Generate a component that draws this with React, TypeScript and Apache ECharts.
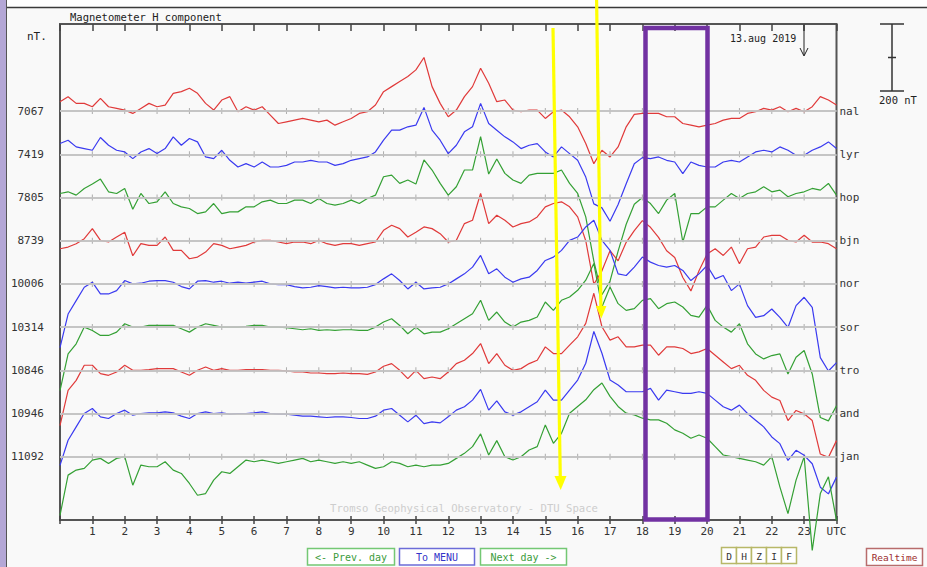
import React, { useEffect, useRef } from "react";
import * as echarts from "echarts";

// ---- data (deviation from station baseline, nT; one sample every 0.25 h, 0..24 UTC) ----
const STEP_H = 0.25;
const STATIONS = ["nal", "lyr", "hop", "bjn", "nor", "sor", "tro", "and", "jan"];
const BASE_NT = [7067, 7419, 7805, 8739, 10006, 10314, 10846, 10946, 11092];
const HOUR_TICKS = [1, 2, 3, 4, 5, 6, 7, 8, 9, 10, 11, 12, 13, 14, 15, 16, 17, 18, 19, 20, 21, 22, 23];

const NAL = [
  28, 43, 23, 23, 13, 38, 13, 8, 3, -7, 8, 23, 13, 18, 53, 58, 68, 53, 23, 3, 33, 43, -2, 13, 3,
  13, -12, -37, -32, -27, -22, -27, -32, -27, -42, -32, -22, -7, -2, 18, 58, 73, 88, 103, 123, 160, 73, 23, -17,
  3, 43, 73, 128, 83, 28, 33, 3, -2, 3, 3, -22, -2, 3, -17, -47, -97, -157, -117, -137, -107, -47, -10, -7,
  -7, -7, -17, -17, -37, -42, -47, -42, -37, -27, -22, -22, -7, -2, 8, 3, 13, -2, 8, -2, 13, 43, 33, 18,
];
const LYR = [
  32, 42, 22, 17, 12, 50, 27, 12, 7, -13, 7, 17, 2, 17, 52, 27, 47, 37, -8, -13, 12, -18, -38, -28, -38,
  -23, -38, -38, -33, -23, -23, -18, -23, -23, -33, -28, -18, -13, -8, 7, 42, 72, 72, 82, 87, 140, 72, 42, 2,
  27, 67, 82, 152, 92, 72, 52, 37, 17, 27, 32, 7, -8, 22, 2, -18, -68, -148, -160, -200, -150, -88, -28, -10,
  -13, -8, -18, -23, -58, -23, -33, -38, -38, -23, -18, -23, -8, 7, 12, 7, 22, 12, -3, -3, 12, 22, 37, 17,
];
const HOP = [
  12, 17, 7, 27, 40, 55, 17, 12, 27, -35, 12, -18, -13, 17, -18, -28, -33, -48, -43, -18, -48, -43, -43, -28, -28,
  -13, -8, -18, -18, -8, -8, -18, -3, -18, -23, -18, -8, -18, -3, 7, 62, 67, 42, 52, 40, 112, 82, 42, 7,
  32, 82, 82, 182, 70, 115, 72, 52, 42, 67, 72, 72, 72, 82, 42, 12, -58, -190, -290, -250, -160, -80, -20, 0,
  -18, -48, -8, 12, -133, -48, -48, -28, -28, -8, 12, -3, 12, 17, 32, 17, 22, 2, 12, 17, 27, 22, 42, 7,
];
const BJN = [
  -24, -19, -9, 6, 36, 1, -4, 11, 25, -45, -9, -14, -14, 11, -29, -29, -54, -49, -34, -9, -14, -24, -19, -14, -4,
  1, 1, -4, -9, -4, -4, -9, 1, -9, -14, -9, -9, -14, -9, -4, 31, 46, 36, 11, 25, 41, 36, 21, -4,
  1, 51, 61, 141, 51, 76, 61, 41, 51, 56, 71, 101, 111, 116, 101, 71, 0, -130, -90, -30, -60, -5, 30, 60,
  40, 10, -30, -50, -110, -150, -90, -40, -24, -44, -19, -69, -24, -19, 11, 16, 16, 1, -4, 16, -4, -4, -9, -24,
];
const NOR = [
  -190, -90, -50, -10, 5, -30, -30, -20, 10, 0, 2, 8, 10, 10, 5, -8, -15, 8, 10, 5, 8, 2, 5, 2, 5,
  8, 0, -2, -2, -8, -12, -10, -5, -8, -12, -10, -12, -12, -10, -2, 15, 30, 10, -15, 5, -15, -12, -10, 0,
  15, 30, 50, 85, 30, 45, 20, 5, 15, 20, 40, 70, 80, 100, 130, 140, 170, 190, 130, 100, 30, 25, 50, 80,
  65, 55, 50, 55, 40, 10, 30, 55, 15, 25, -20, 0, -65, -100, -95, -75, -100, -130, -65, -40, -70, -220, -260, -235,
];
const SOR = [
  -190, -80, -50, 0, -10, -25, -25, -15, 10, 0, 0, 5, 5, 5, 5, -5, -15, 0, 10, 5, 0, 0, 0, 2, 5,
  5, 0, 0, -2, -5, -8, -5, -10, -8, -10, -8, -8, -10, -10, 0, 15, 25, 5, -20, 0, -20, -15, -15, -5,
  10, 25, 40, 80, 20, 45, 15, 0, 15, 20, 30, 75, 50, 80, 90, 110, 140, 190, 60, 120, 70, 50, 55, 80,
  85, 55, 70, 75, 60, 35, 30, 65, 20, 0, -15, 10, -50, -80, -95, -85, -80, -140, -90, -70, -140, -270, -280, -235,
];
const TRO = [
  -165, -60, -30, 15, 15, -10, -15, -5, 15, 0, 0, 2, 5, 5, 5, -5, -15, 0, 10, 0, 5, 0, 0, 2, 2,
  2, 0, 0, -2, -5, -5, -8, -8, -10, -10, -8, -10, -10, -12, -5, 12, 20, 0, -25, 0, -25, -20, -25, -5,
  20, 30, 50, 80, 20, 50, 15, 0, 5, 20, 30, 70, 50, 50, 75, 100, 140, 230, 130, 90, 100, 70, 70, 75,
  75, 45, 70, 70, 65, 50, 55, 65, 45, 25, 5, 15, -15, -30, -60, -80, -90, -150, -120, -130, -150, -250, -260, -210,
];
const AND = [
  -155, -80, -40, 0, 15, -10, -15, 0, 10, -5, 0, 2, 2, 5, 2, -8, -15, 0, 5, 0, 2, -2, 0, 0, 2,
  5, 0, -2, -2, -5, -8, -8, -10, -12, -10, -10, -12, -15, -15, -8, 10, 15, -5, -25, -5, -30, -25, -28, -10,
  10, 20, 40, 72, 10, 38, 5, -5, 5, 20, 35, 70, 40, 40, 70, 100, 150, 245, 180, 100, 85, 65, 65, 65,
  75, 40, 70, 65, 60, 60, 65, 60, 40, 20, 10, 25, 0, -20, -40, -70, -90, -140, -110, -125, -150, -220, -240, -190,
];
const JAN = [
  -175, -55, -40, -35, -10, -5, -20, -5, 0, -85, -25, -30, -30, -15, -40, -50, -80, -115, -110, -70, -45, -50, -30, -10, -15,
  -10, -15, -20, -15, -10, -5, -15, -10, -15, -20, -15, -20, -15, -25, -35, -30, -15, -20, -30, -25, -30, -25, -25, -20,
  -5, 10, 30, 68, 5, 48, 0, -10, 0, 20, 30, 95, 40, 70, 130, 150, 170, 200, 220, 180, 150, 130, 125, 115,
  110, 110, 100, 80, 70, 55, 65, 55, 30, 5, 0, -5, -10, -15, -25, 0, -90, -170, -70, 0, -280, -110, -60, -190,
];
const TRACES = [NAL, LYR, HOP, BJN, NOR, SOR, TRO, AND, JAN];

// ---- layout / style ----
const RED = "#e03a3a";
const BLUE = "#3a3af0";
const GREEN = "#34a034";
const COLORS = [RED, BLUE, GREEN, RED, BLUE, GREEN, RED, BLUE, GREEN];
const STACK_BASE = 189; // nT above plot bottom for the lowest trace
const STACK_STEP = 129; // nT between stacked traces
const Y_MAX = 1481;
const MONO = '"DejaVu Sans Mono", monospace';
const offsetOf = (i: number) => STACK_BASE + STACK_STEP * (STATIONS.length - 1 - i);

function txt(text: string, x: number, y: number, opts: any = {}) {
  const size = opts.size || 11;
  const align = opts.align || "left";
  return {
    type: "text",
    x,
    y,
    z: opts.z || 50,
    style: {
      text,
      fill: opts.fill || "#222",
      font: `${size}px ${MONO}`,
      fontSize: size,
      fontFamily: MONO,
      align,
      textAlign: align,
      verticalAlign: "middle",
      textVerticalAlign: "middle",
    },
  };
}

function box(x: number, y: number, w: number, h: number, stroke: string) {
  return {
    type: "rect",
    z: 40,
    shape: { x, y, width: w, height: h },
    style: { fill: "#ffffff", stroke, lineWidth: 1.5 },
  };
}

export default function App() {
  const ref = useRef<HTMLDivElement>(null);

  useEffect(() => {
    if (!ref.current) return;
    const chart = echarts.init(ref.current, undefined, { renderer: "svg" });

    const traceSeries = TRACES.map((dev, i) => ({
      type: "line",
      name: STATIONS[i],
      xAxisIndex: 0,
      yAxisIndex: 0,
      showSymbol: false,
      symbol: "none",
      clip: false,
      z: 3,
      silent: true,
      lineStyle: { color: COLORS[i], width: 1.2 },
      data: dev.map((v, k) => [k * STEP_H, offsetOf(i) + v]),
    }));

    const tickPoints: number[][] = [];
    STATIONS.forEach((_, i) => HOUR_TICKS.forEach((h) => tickPoints.push([h, offsetOf(i)])));

    const markData: any[] = [];
    STATIONS.forEach((s, i) => {
      markData.push({
        yAxis: offsetOf(i),
        label: {
          show: true,
          position: "start",
          distance: 16,
          formatter: String(BASE_NT[i]),
          color: "#333",
          fontSize: 11,
          fontFamily: MONO,
        },
      });
      markData.push({
        yAxis: offsetOf(i),
        label: {
          show: true,
          position: "end",
          distance: 3,
          formatter: s,
          color: "#333",
          fontSize: 11,
          fontFamily: MONO,
        },
      });
    });

    const baselineSeries = {
      type: "scatter",
      name: "baselines",
      xAxisIndex: 0,
      yAxisIndex: 0,
      z: 1,
      silent: true,
      symbol: "rect",
      symbolSize: [1, 6],
      itemStyle: { color: "#9a9a9a" },
      data: tickPoints,
      markLine: {
        silent: true,
        symbol: ["none", "none"],
        animation: false,
        lineStyle: { color: "#c2c2c2", width: 1.6, type: "solid" },
        emphasis: { disabled: true },
        data: markData,
      },
    };

    const hourAxisBase = {
      type: "value",
      min: 0,
      max: 24,
      interval: 1,
      splitLine: { show: false },
      axisLine: { show: false },
    };

    const graphic: any[] = [
      // page chrome
      { type: "rect", z: 0, shape: { x: 0, y: 0, width: 927, height: 7 }, style: { fill: "#ffffff" } },
      { type: "line", z: 1, shape: { x1: 6, y1: 7.5, x2: 927, y2: 7.5 }, style: { stroke: "#3a3a3a", lineWidth: 1.5 } },
      { type: "rect", z: 1, shape: { x: 0, y: 0, width: 6, height: 567 }, style: { fill: "#b4a7d6" } },
      { type: "line", z: 1, shape: { x1: 6.5, y1: 0, x2: 6.5, y2: 567 }, style: { stroke: "#555", lineWidth: 1 } },
      // texts
      txt("Magnetometer H component", 70, 17, { size: 10.5 }),
      txt("nT.", 27, 36, { size: 11 }),
      txt("13.aug 2019", 730, 38, { size: 10 }),
      txt("200 nT", 879, 100, { size: 10.5 }),
      txt("Tromso Geophysical Observatory - DTU Space", 464, 508, { size: 10.6, align: "center", fill: "#cdcdcd", z: 2 }),
      // date arrow
      { type: "line", z: 50, shape: { x1: 804, y1: 25, x2: 804, y2: 55 }, style: { stroke: "#222", lineWidth: 1 } },
      { type: "polyline", z: 50, shape: { points: [[800, 48], [804, 56], [808, 48]] }, style: { stroke: "#222", lineWidth: 1, fill: "none" } },
      // scale bar
      { type: "line", z: 50, shape: { x1: 892, y1: 24, x2: 892, y2: 91 }, style: { stroke: "#333", lineWidth: 1.5 } },
      { type: "line", z: 50, shape: { x1: 880, y1: 24, x2: 904, y2: 24 }, style: { stroke: "#333", lineWidth: 1.5 } },
      { type: "line", z: 50, shape: { x1: 880, y1: 91, x2: 904, y2: 91 }, style: { stroke: "#333", lineWidth: 1.5 } },
      { type: "line", z: 50, shape: { x1: 888, y1: 57.5, x2: 896, y2: 57.5 }, style: { stroke: "#333", lineWidth: 1.5 } },
      // buttons
      box(307.5, 548.5, 87, 16.5, "#74c874"),
      txt("<- Prev. day", 351, 557, { size: 10, align: "center", fill: "#3c9c3c" }),
      box(399.5, 548.5, 75, 16.5, "#6c6cd8"),
      txt("To MENU", 437, 557, { size: 10, align: "center", fill: "#3434c8" }),
      box(480.5, 548.5, 86, 16.5, "#74c874"),
      txt("Next day ->", 523.5, 557, { size: 10, align: "center", fill: "#3c9c3c" }),
      box(866.5, 548.5, 56, 17, "#b86c6c"),
      txt("Realtime", 894.5, 557, { size: 9.5, align: "center", fill: "#9c2e2e" }),
    ];
    ["D", "H", "Z", "I", "F"].forEach((c, k) => {
      graphic.push(box(721.5 + k * 15, 547.5, 15, 16, "#b8b868"));
      graphic.push(txt(c, 729 + k * 15, 556, { size: 9.5, align: "center", fill: "#333" }));
    });
    // annotations
    graphic.push(
      { type: "line", z: 100, shape: { x1: 553, y1: 28, x2: 560.3, y2: 478 }, style: { stroke: "#ffff00", lineWidth: 3.2 } },
      { type: "polygon", z: 100, shape: { points: [[554.5, 476], [566.5, 476], [560.7, 490]] }, style: { fill: "#ffff00" } },
      { type: "line", z: 100, shape: { x1: 596.6, y1: 0, x2: 600.9, y2: 308 }, style: { stroke: "#ffff00", lineWidth: 3.2 } },
      { type: "polygon", z: 100, shape: { points: [[595.8, 306], [606.4, 306], [601.3, 318.5]] }, style: { fill: "#ffff00" } },
      { type: "rect", z: 100, shape: { x: 645.5, y: 28, width: 62, height: 491.5 }, style: { fill: "none", stroke: "#7232a2", lineWidth: 4.5 } }
    );

    chart.setOption({
      animation: false,
      backgroundColor: "#f9f9f9",
      grid: {
        left: 60,
        right: 90.5,
        top: 24,
        bottom: 47,
        show: true,
        borderColor: "#555",
        borderWidth: 2,
        backgroundColor: "transparent",
      },
      xAxis: [
        {
          ...hourAxisBase,
          position: "bottom",
          axisTick: { show: true, length: 4, lineStyle: { color: "#444", width: 1.5 } },
          axisLabel: {
            show: true,
            margin: 6,
            color: "#333",
            fontSize: 11,
            fontFamily: MONO,
            formatter: (v: number) => (v === 0 ? "" : v === 24 ? "UTC" : String(v)),
          },
        },
        {
          ...hourAxisBase,
          position: "top",
          axisTick: { show: true, inside: true, length: 7, lineStyle: { color: "#444", width: 1.5 } },
          axisLabel: { show: false },
        },
        {
          ...hourAxisBase,
          position: "bottom",
          axisTick: { show: true, inside: true, length: 4, lineStyle: { color: "#444", width: 1.5 } },
          axisLabel: { show: false },
        },
      ],
      yAxis: {
        type: "value",
        min: 0,
        max: Y_MAX,
        show: false,
        splitLine: { show: false },
      },
      graphic,
      series: [baselineSeries, ...traceSeries],
    });

    return () => chart.dispose();
  }, []);

  return (
    <div
      ref={ref}
      style={{ position: "fixed", left: 0, top: 0, width: 927, height: 567, background: "#f9f9f9" }}
    />
  );
}
